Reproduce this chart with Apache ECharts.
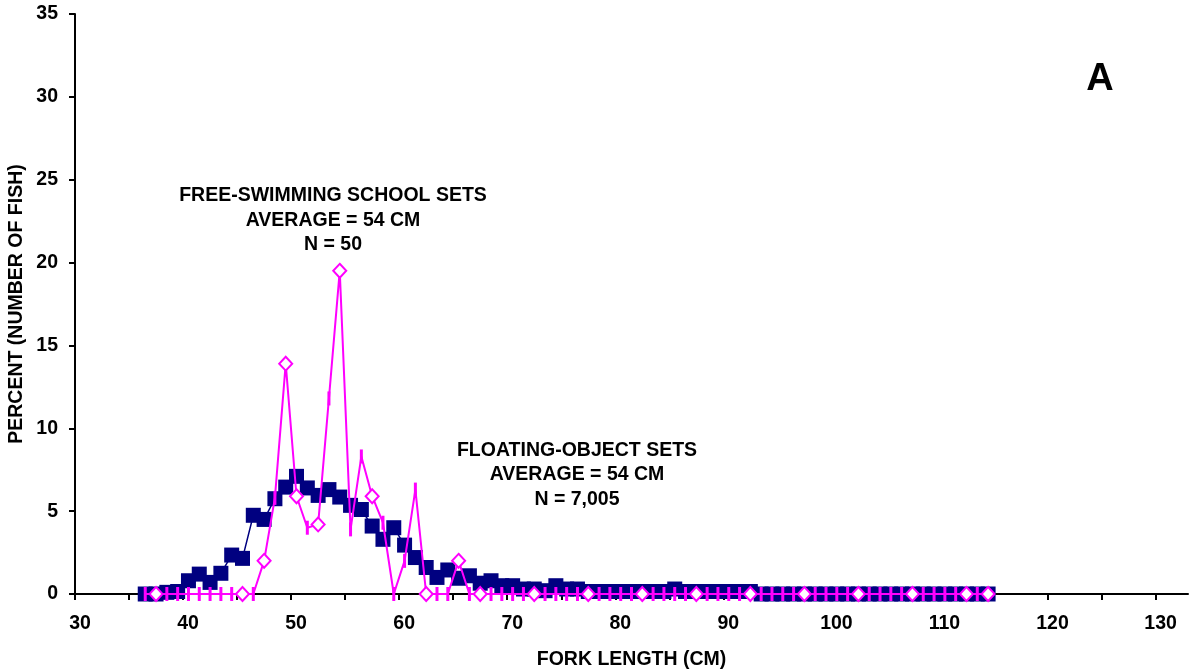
<!DOCTYPE html>
<html>
<head>
<meta charset="utf-8">
<script src="https://cdn.jsdelivr.net/npm/echarts@6/dist/echarts.min.js"></script>
<style>
  html, body { margin: 0; padding: 0; background: #fff; }
  #chart { width: 1191px; height: 670px; }
</style>
</head>
<body>
<div id="chart"></div>
<script>
// fork length bins (cm, plotted at bin centre)
const lengths = [
  36.5, 37.5, 38.5, 39.5, 40.5, 41.5, 42.5, 43.5, 44.5, 45.5,
  46.5, 47.5, 48.5, 49.5, 50.5, 51.5, 52.5, 53.5, 54.5, 55.5,
  56.5, 57.5, 58.5, 59.5, 60.5, 61.5, 62.5, 63.5, 64.5, 65.5,
  66.5, 67.5, 68.5, 69.5, 70.5, 71.5, 72.5, 73.5, 74.5, 75.5,
  76.5, 77.5, 78.5, 79.5, 80.5, 81.5, 82.5, 83.5, 84.5, 85.5,
  86.5, 87.5, 88.5, 89.5, 90.5, 91.5, 92.5, 93.5, 94.5, 95.5,
  96.5, 97.5, 98.5, 99.5, 100.5, 101.5, 102.5, 103.5, 104.5, 105.5,
  106.5, 107.5, 108.5, 109.5, 110.5, 111.5, 112.5, 113.5, 114.5
];

// floating-object sets, N = 7,005
const floatingPct = [
  0, 0, 0.1, 0.15, 0.8, 1.2, 0.7, 1.25, 2.35, 2.15,
  4.75, 4.5, 5.75, 6.45, 7.1, 6.4, 5.95, 6.3, 5.85, 5.35,
  5.1, 4.1, 3.3, 4.0, 2.95, 2.2, 1.6, 1.0, 1.45, 0.95,
  1.1, 0.65, 0.8, 0.5, 0.5, 0.3, 0.3, 0.2, 0.5, 0.3,
  0.3, 0.15, 0.15, 0.15, 0.15, 0.15, 0.15, 0.15, 0.15, 0.3,
  0.15, 0.15, 0.15, 0.15, 0.15, 0.15, 0.15, 0, 0, 0,
  0, 0, 0, 0, 0, 0, 0, 0, 0, 0,
  0, 0, 0, 0, 0, 0, 0, 0, 0
];

// free-swimming school sets, N = 50
const schoolPct = [
  0, 0, 0, 0, 0, 0, 0, 0, 0, 0,
  0, 2.0, 5.8, 13.9, 5.9, 4.0, 4.2, 11.8, 19.5, 3.9,
  8.3, 5.9, 4.3, 0, 2.0, 6.3, 0, 0, 0, 2.0,
  0, 0, 0, 0, 0, 0, 0, 0, 0, 0,
  0, 0, 0, 0, 0, 0, 0, 0, 0, 0,
  0, 0, 0, 0, 0, 0, 0, 0, 0, 0,
  0, 0, 0, 0, 0, 0, 0, 0, 0, 0,
  0, 0, 0, 0, 0, 0, 0, 0, 0
];

// points of the school series drawn with a diamond (others get a bar marker)
const diamondAt = [37.5, 45.5, 47.5, 49.5, 50.5, 52.5, 54.5, 57.5, 62.5, 65.5,
  67.5, 72.5, 77.5, 82.5, 87.5, 92.5, 97.5, 102.5, 107.5, 112.5, 114.5];

const xTicks = [30, 35, 40, 45, 50, 55, 60, 65, 70, 75, 80, 85, 90, 95, 100, 105, 110, 115, 120, 125, 130];
const xLabels = [30, 40, 50, 60, 70, 80, 90, 100, 110, 120, 130];

const schoolText = ["FREE-SWIMMING SCHOOL SETS", "AVERAGE = 54 CM", "N = 50"];
const floatingText = ["FLOATING-OBJECT SETS", "AVERAGE = 54 CM", "N = 7,005"];

const NAVY = "#000080";
const MAGENTA = "#ff00ff";
const FONT = "'Liberation Sans', Arial, sans-serif";

const floatingData = lengths.map((x, i) => [x, floatingPct[i]]);
const schoolData = lengths.map((x, i) => {
  if (diamondAt.includes(x)) {
    return {
      value: [x, schoolPct[i]], symbol: "diamond", symbolSize: [13, 14],
      itemStyle: { color: "#fff", borderColor: MAGENTA, borderWidth: 2 },
    };
  }
  return {
    value: [x, schoolPct[i]], symbol: "rect", symbolSize: [3, 14],
    itemStyle: { color: MAGENTA, borderWidth: 0 },
  };
});

const chart = echarts.init(document.getElementById("chart"), null, { renderer: "canvas" });

chart.setOption({
  animation: false,
  backgroundColor: "#fff",
  textStyle: { fontFamily: FONT },
  grid: { left: 75, right: 3, top: 14, bottom: 76, containLabel: false, outerBoundsMode: "none" },
  xAxis: {
    type: "value", min: 30, max: 133,
    name: "FORK LENGTH (CM)", nameLocation: "middle", nameGap: 56, nameMoveOverlap: false,
    nameTextStyle: { color: "#000", fontSize: 19.5, fontWeight: "bold", fontFamily: FONT },
    axisLine: { show: true, lineStyle: { color: "#000", width: 2 } },
    axisTick: { show: true, length: 6, lineStyle: { color: "#000", width: 2 }, customValues: xTicks },
    axisLabel: {
      color: "#000", fontSize: 19.5, fontWeight: "bold", fontFamily: FONT,
      margin: 20, padding: [0, 0, 0, 10], customValues: xLabels,
    },
    splitLine: { show: false },
  },
  yAxis: {
    type: "value", min: 0, max: 35, interval: 5,
    name: "PERCENT (NUMBER OF FISH)", nameLocation: "middle", nameGap: 48, nameRotate: 90,
    nameMoveOverlap: false,
    nameTextStyle: { color: "#000", fontSize: 19.5, fontWeight: "bold", fontFamily: FONT },
    axisLine: { show: true, lineStyle: { color: "#000", width: 2 } },
    axisTick: { show: true, length: 6, lineStyle: { color: "#000", width: 2 } },
    axisLabel: {
      color: "#000", fontSize: 19.5, fontWeight: "bold", fontFamily: FONT,
      margin: 17, padding: [4, 0, 0, 0],
    },
    splitLine: { show: false },
  },
  series: [
    {
      name: "FLOATING-OBJECT SETS", type: "line", data: floatingData,
      symbol: "rect", symbolSize: 15,
      lineStyle: { color: NAVY, width: 1.5 },
      itemStyle: { color: NAVY },
      z: 2,
    },
    {
      name: "FREE-SWIMMING SCHOOL SETS", type: "line", data: schoolData,
      lineStyle: { color: MAGENTA, width: 2 },
      itemStyle: { color: MAGENTA },
      z: 3,
    },
  ],
  graphic: [
    {
      type: "text", x: 333, y: 220.5,
      style: {
        text: schoolText.join("\n"), align: "center", verticalAlign: "middle",
        font: "bold 19.5px " + FONT, lineHeight: 24.5, fill: "#000",
      },
    },
    {
      type: "text", x: 577, y: 475,
      style: {
        text: floatingText.join("\n"), align: "center", verticalAlign: "middle",
        font: "bold 19.5px " + FONT, lineHeight: 24.5, fill: "#000",
      },
    },
    {
      type: "text", x: 1100, y: 80,
      style: { text: "A", align: "center", verticalAlign: "middle", font: "bold 38px " + FONT, fill: "#000" },
    },
  ],
});
</script>
</body>
</html>
